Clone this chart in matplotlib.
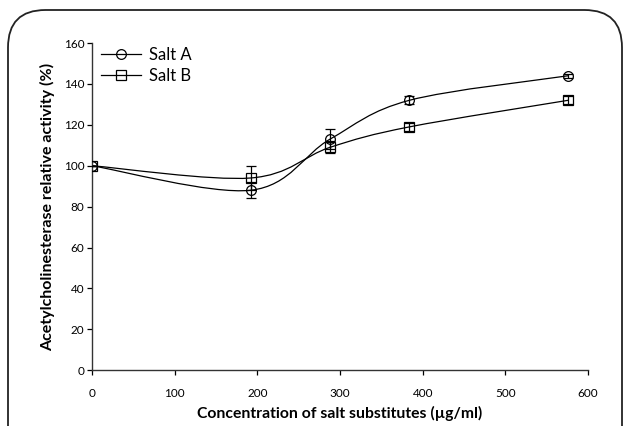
import numpy as np
import matplotlib
matplotlib.use("Agg")
import matplotlib.pyplot as plt
from matplotlib.path import Path
from matplotlib.patches import PathPatch, FancyBboxPatch
from matplotlib.lines import Line2D

plt.rcParams["font.family"] = ["Lato", "DejaVu Sans"]

# data
conc = [0, 192, 288, 384, 576]
salt_a = [100, 88, 113, 132, 144]
salt_a_err = [0, 4, 5, 2, 1]
salt_b = [100, 94, 109, 119, 132]
salt_b_err = [0, 6, 3, 2, 2]


def smooth_path(xs, ys):
    # Catmull-Rom style bezier through the points (like Excel "smoothed line")
    pts = np.column_stack([xs, ys]).astype(float)
    n = len(pts)
    verts = [pts[0]]
    codes = [Path.MOVETO]
    for i in range(n - 1):
        p0 = pts[max(i - 1, 0)]
        p1 = pts[i]
        p2 = pts[i + 1]
        p3 = pts[min(i + 2, n - 1)]
        c1 = p1 + (p2 - p0) / 6
        c2 = p2 - (p3 - p1) / 6
        verts += [c1, c2, p2]
        codes += [Path.CURVE4] * 3
    return Path(verts, codes)


fig = plt.figure(figsize=(6.25, 4.26), dpi=100)
ax = fig.add_axes([0.147, 0.131, 0.794, 0.768])

for ys, err, mk in [(salt_a, salt_a_err, "o"), (salt_b, salt_b_err, "s")]:
    ax.add_patch(PathPatch(smooth_path(conc, ys), facecolor="none",
                           edgecolor="black", lw=0.9, zorder=2))
    ax.errorbar(conc, ys, yerr=err, fmt=mk, mfc="none", mec="black", ms=7,
                mew=0.9, ecolor="black", elinewidth=0.9, capsize=3.5,
                capthick=0.9, zorder=3)

handles = [Line2D([], [], color="black", lw=0.9, marker="o", mfc="none", ms=7, mew=0.9),
           Line2D([], [], color="black", lw=0.9, marker="s", mfc="none", ms=7, mew=0.9)]
ax.legend(handles, ["Salt A", "Salt B"], loc="upper left", frameon=False,
          fontsize=12, handlelength=2.4, handletextpad=0.5, labelspacing=0.3,
          bbox_to_anchor=(-0.005, 1.025), borderaxespad=0.3)

ax.set_xlim(0, 600)
ax.set_ylim(0, 160)
ax.set_xticks(range(0, 601, 100))
ax.set_yticks(range(0, 161, 20))
ax.tick_params(labelsize=8.5, length=3.5, width=0.9, pad=9)
ax.tick_params(axis="y", pad=2)
ax.spines[["top", "right"]].set_visible(False)
for s in ["left", "bottom"]:
    ax.spines[s].set_linewidth(1.0)
    ax.spines[s].set_color("#333333")

ax.set_xlabel("Concentration of salt substitutes (µg/ml)", fontsize=11.3,
              fontweight="bold", labelpad=5)
ax.set_ylabel("Acetylcholinesterase relative activity (%)", fontsize=11.5,
              fontweight="bold", labelpad=6)

# rounded frame around the figure, open at the bottom
frame = FancyBboxPatch((8 / 625, -0.2), (622 - 8) / 625, 1.2 - 10 / 426,
                       boxstyle="round,pad=0,rounding_size=0.06",
                       transform=fig.transFigure, facecolor="none",
                       edgecolor="#222222", lw=1.3, clip_on=False,
                       mutation_aspect=625 / 426)
fig.add_artist(frame)

fig.savefig("out.png", dpi=100)
